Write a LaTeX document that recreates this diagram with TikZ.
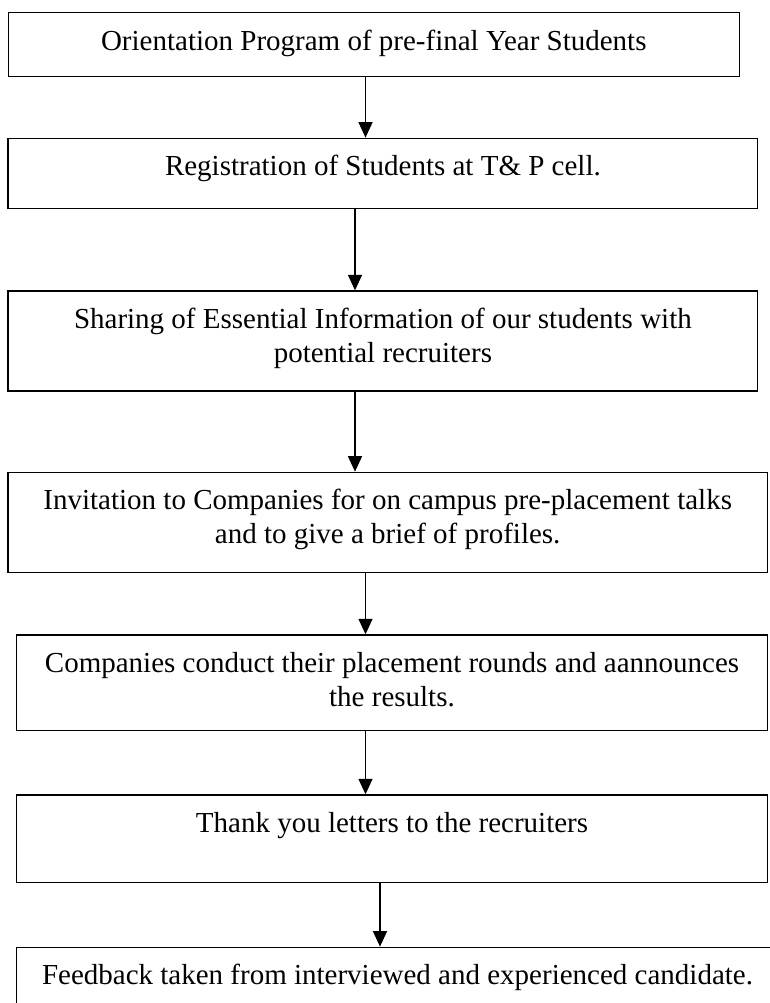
\documentclass[tikz,border=0pt]{standalone}
\usepackage{fontspec}
\setmainfont{Liberation Serif}
\usetikzlibrary{arrows.meta}

\begin{document}
\begin{tikzpicture}[x=1pt,y=1pt,
  stepbox/.style={draw=black, line width=1.3pt, rectangle, inner sep=0pt, anchor=center},
  steptext/.style={inner sep=0pt, anchor=north, align=center,
    font=\fontsize{29}{34}\selectfont, yshift=-14.2pt},
  flow/.style={line width=1.4pt, -{Triangle[length=15.5pt,width=14pt]}}]

\clip (0,0) rectangle (770,-1003);
\fill[white] (0,0) rectangle (770,-1003);

% boxes (centre, size)
\node[stepbox, minimum width=731pt,   minimum height=64pt]   (b1) at (373.8,-44.7) {};
\node[stepbox, minimum width=749.7pt, minimum height=70pt]   (b2) at (382.9,-173.3) {};
\node[stepbox, minimum width=749.7pt, minimum height=100pt]  (b3) at (382.9,-341) {};
\node[stepbox, minimum width=759.3pt, minimum height=100.4pt](b4) at (387.7,-522.5) {};
\node[stepbox, minimum width=750.6pt, minimum height=95.7pt] (b5) at (392,-682.8) {};
\node[stepbox, minimum width=750.6pt, minimum height=87.7pt] (b6) at (392,-838.8) {};
\node[stepbox, minimum width=761.6pt, minimum height=70pt]   (b7) at (397.5,-982.3) {};

% texts, set from the top of each box
\node[steptext] (t1) at (b1.north) {\strut Orientation Program of pre-final Year Students};
\node[steptext] (t2) at (b2.north) {\strut Registration of Students at T\& P cell.};
\node[steptext] (t3) at (b3.north) {\strut Sharing of Essential Information of our students with\\\strut potential recruiters};
\node[steptext] (t4) at (b4.north) {\strut Invitation to Companies for on campus pre-placement talks\\\strut and to give a brief of profiles.};
\node[steptext] (t5) at (b5.north) {\strut Companies conduct their placement rounds and aannounces\\\strut the results.};
\node[steptext] (t6) at (b6.north) {\strut Thank you letters to the recruiters};
\node[steptext] (t7) at (b7.north) {\strut Feedback taken from interviewed and experienced candidate.};

% columns of the connectors
\coordinate (c1) at (365.5,0);
\coordinate (c2) at (355,0);
\coordinate (c3) at (380,0);

\draw[flow] (b1.south -| c1) -- (b2.north -| c1);
\draw[flow] (b2.south -| c2) -- (b3.north -| c2);
\draw[flow] (b3.south -| c2) -- (b4.north -| c2);
\draw[flow] (b4.south -| c1) -- (b5.north -| c1);
\draw[flow] (b5.south -| c1) -- (b6.north -| c1);
\draw[flow] (b6.south -| c3) -- (b7.north -| c3);
\end{tikzpicture}
\end{document}
